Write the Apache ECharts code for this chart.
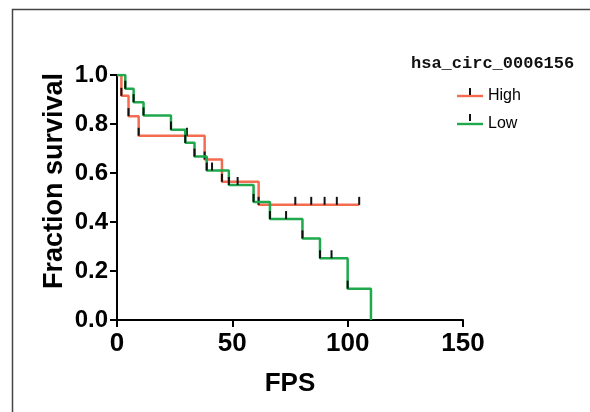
<!DOCTYPE html>
<html>
<head>
<meta charset="utf-8">
<script src="https://cdn.jsdelivr.net/npm/echarts@6/dist/echarts.min.js"></script>
<style>html,body{margin:0;padding:0;background:#fff}#c{width:590px;height:412px}</style>
</head>
<body>
<div id="c"></div>
<script>
// Kaplan-Meier step points (event and censor points)
var highTimes = [0, 1.9, 5.0, 9.4, 30.3, 38.0, 45.5, 61.4, 77.3, 84.2, 90.0, 95.3, 105.0];
var highSurv  = [1.0, 0.915, 0.832, 0.752, 0.752, 0.655, 0.564, 0.470, 0.470, 0.470, 0.470, 0.470, 0.470];
var lowTimes  = [0, 3.6, 7.2, 11.5, 23.4, 29.6, 33.6, 38.9, 41.2, 48.5, 52.3, 59.2, 66.3, 73.3, 80.4, 88.0, 93.0, 100.0, 110.1];
var lowSurv   = [1.0, 0.944, 0.889, 0.835, 0.777, 0.723, 0.667, 0.610, 0.610, 0.551, 0.551, 0.482, 0.412, 0.412, 0.333, 0.252, 0.252, 0.128, 0.0];
var xTicks = [0, 50, 100, 150];
var yTicks = [0.0, 0.2, 0.4, 0.6, 0.8, 1.0];
var seriesNames = ['High', 'Low'];
var seriesColors = ['#F36C4F', '#1FA84C'];
var legendTitle = 'hsa_circ_0006156';
var xName = 'FPS';
var yName = 'Fraction survival';

function pts(ts, ss) {
  return ts.map(function (t, i) {
    var d = { value: [t, ss[i]] };
    if (i === 0 || (i === ts.length - 1 && ss[i] === 0)) d.symbol = 'none';
    return d;
  });
}

var chart = echarts.init(document.getElementById('c'), null, { renderer: 'canvas' });
var axisFont = { fontFamily: 'Liberation Sans, Arial, sans-serif', fontWeight: 'bold', color: '#000' };
var legendTop = 83, legendGap = 26;
chart.setOption({
  animation: false,
  backgroundColor: '#fff',
  title: {
    text: legendTitle, left: 406, top: 50,
    textStyle: { fontFamily: 'Liberation Mono, monospace', fontSize: 17, fontWeight: 'bold', color: '#111' }
  },
  legend: {
    orient: 'vertical', left: 452, top: legendTop, itemWidth: 26, itemHeight: 14, itemGap: legendGap - 14,
    data: seriesNames.map(function (n, i) {
      return { name: n, icon: 'path://M0,6.8 H26 V9.2 H0 Z', itemStyle: { color: seriesColors[i] } };
    }),
    textStyle: { fontFamily: 'Liberation Sans, Arial, sans-serif', fontSize: 16, color: '#000' }
  },
  grid: { left: 117, right: 127, top: 75, bottom: 92, containLabel: false },
  xAxis: {
    type: 'value', min: xTicks[0], max: xTicks[xTicks.length - 1], interval: 50,
    name: xName, nameLocation: 'middle', nameGap: 51,
    nameTextStyle: Object.assign({ fontSize: 26 }, axisFont),
    axisLine: { show: true, onZero: false, lineStyle: { color: '#000', width: 2 } },
    axisTick: { show: true, length: 7, lineStyle: { color: '#000', width: 2 } },
    axisLabel: Object.assign({ fontSize: 26, margin: 11 }, axisFont),
    splitLine: { show: false }
  },
  yAxis: {
    type: 'value', min: yTicks[0], max: yTicks[yTicks.length - 1], interval: 0.2,
    axisLine: { show: true, lineStyle: { color: '#000', width: 2 } },
    axisTick: { show: true, length: 7, lineStyle: { color: '#000', width: 2 } },
    axisLabel: Object.assign({ fontSize: 24, margin: 9, formatter: function (v) { return v.toFixed(1); } }, axisFont),
    splitLine: { show: false }
  },
  graphic: [{
    type: 'rect', silent: true, z: -1,
    shape: { x: 12.5, y: 9.5, width: 600, height: 420 },
    style: { fill: 'none', stroke: '#444', lineWidth: 1.5 }
  }, {
    type: 'text', silent: true, x: 55, y: 181, rotation: Math.PI / 2,
    style: Object.assign({ text: yName, fontSize: 27, align: 'center', verticalAlign: 'middle', fill: '#000' },
      { fontFamily: axisFont.fontFamily, fontWeight: 'bold' })
  }, {
    type: 'rect', silent: true, z: 10,
    shape: { x: 469, y: legendTop + 5, width: 2, height: 7 }, style: { fill: '#111' }
  }, {
    type: 'rect', silent: true, z: 10,
    shape: { x: 469, y: legendTop + 5 + legendGap, width: 2, height: 7 }, style: { fill: '#111' }
  }],
  series: [{
    name: seriesNames[0], type: 'line', step: 'end', data: pts(highTimes, highSurv),
    showAllSymbol: true, symbol: 'rect', symbolSize: [2, 8], symbolOffset: [0, -4],
    itemStyle: { color: '#111' }, lineStyle: { color: seriesColors[0], width: 2.5 }, z: 3
  }, {
    name: seriesNames[1], type: 'line', step: 'end', data: pts(lowTimes, lowSurv),
    showAllSymbol: true, symbol: 'rect', symbolSize: [2, 8], symbolOffset: [0, -4],
    itemStyle: { color: '#111' }, lineStyle: { color: seriesColors[1], width: 2.5 }, z: 4
  }]
});
</script>
</body>
</html>
